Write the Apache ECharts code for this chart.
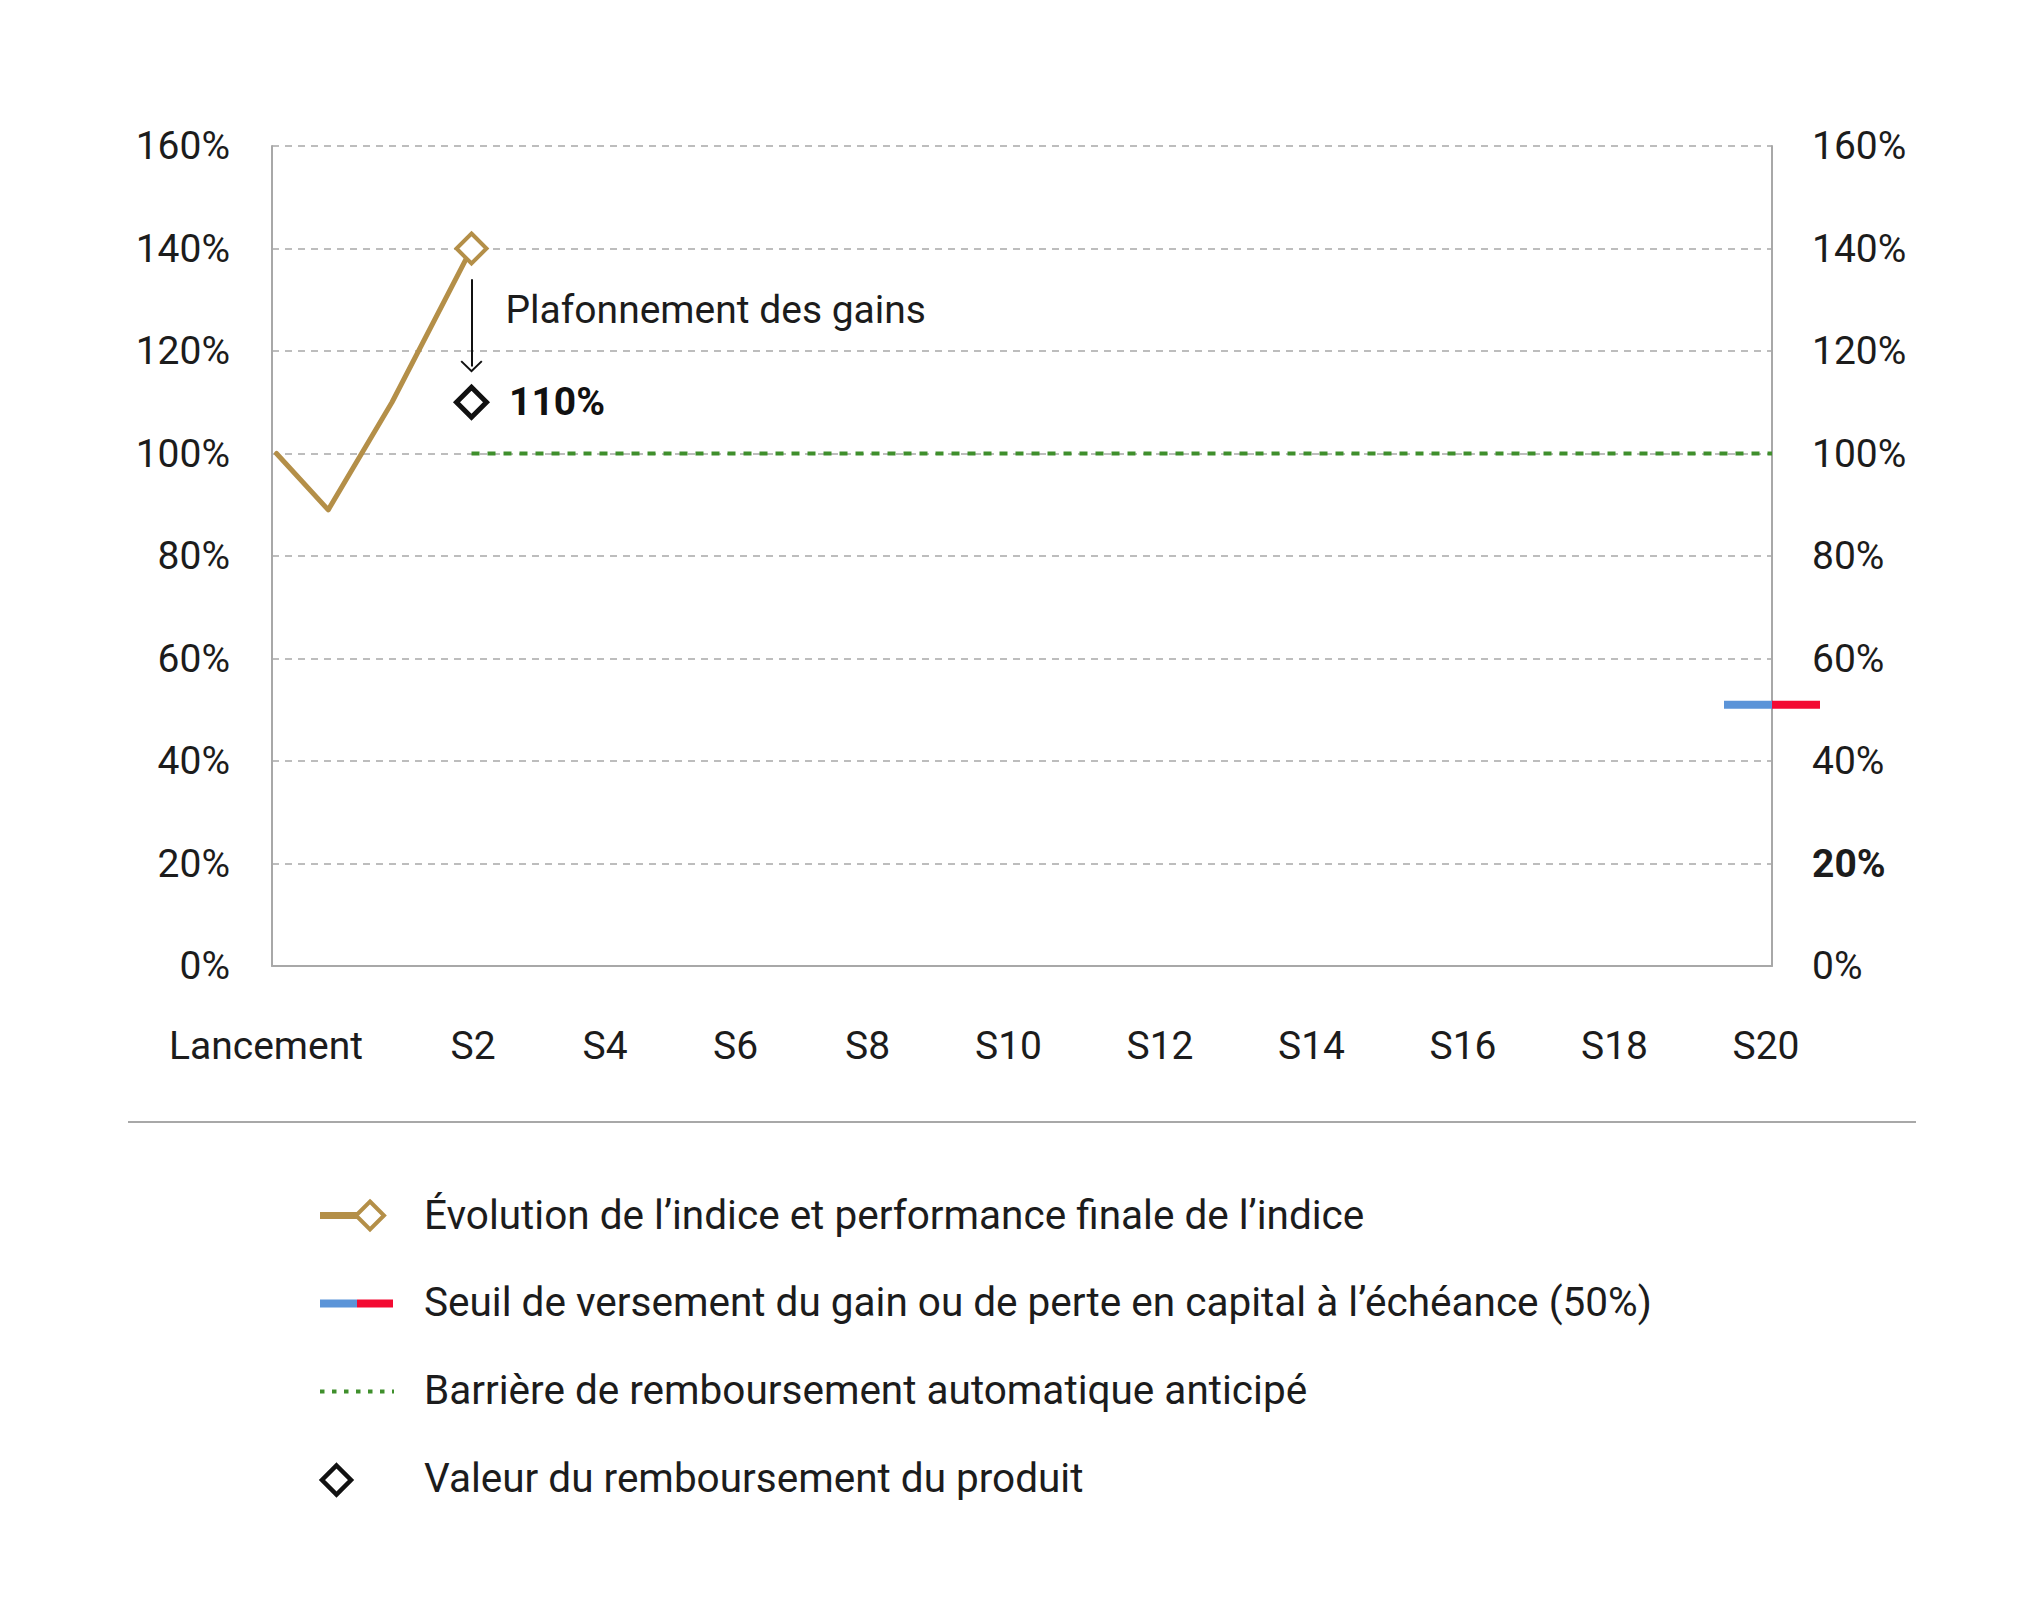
<!DOCTYPE html>
<html>
<head>
<meta charset="utf-8">
<script src="https://cdn.jsdelivr.net/npm/echarts@6/dist/echarts.min.js"></script>
<style>
  html, body { margin: 0; padding: 0; background: #ffffff; }
  #chart { width: 2044px; height: 1600px; }
</style>
</head>
<body>
<div id="chart"></div>
<script>
// ---- data ----
const xTickValues = [0, 13.8, 22.6, 31.3, 40.1, 49.5, 59.6, 69.7, 79.8, 89.9, 100];
const xTickLabels = ['Lancement', 'S2', 'S4', 'S6', 'S8', 'S10', 'S12', 'S14', 'S16', 'S18', 'S20'];
const yTickValues = [0, 20, 40, 60, 80, 100, 120, 140, 160];
const boldRightTick = 20;

const indexX = [0.3, 3.75, 8, 13.3];
const indexY = [100, 89, 110, 140];

const barrierX = [13.3, 100];
const barrierY = [100, 100];

const thresholdBlueX = [96.8, 100];
const thresholdRedX = [100, 103.2];
const thresholdLevel = 51;

const redemptionX = 13.3;
const redemptionValue = 110;
const redemptionLabel = '110%';

const capArrowFromTo = [134, 117];
const capNoteLevel = 128;
const capNoteText = 'Plafonnement des gains';

const legendLabels = [
  'Évolution de l’indice et performance finale de l’indice',
  'Seuil de versement du gain ou de perte en capital à l’échéance (50%)',
  'Barrière de remboursement automatique anticipé',
  'Valeur du remboursement du produit'
];

// ---- styles ----
const FONT = 'Roboto';
const TXT = '#1c1c1c';
const GOLD = '#b48f48';
const BLUE = '#5b94d8';
const RED = '#f30a32';
const GREEN = '#3f8f2c';
const GRIDC = '#a8a8a8';
const FS = 39;
const LFS = 40.5;

const chart = echarts.init(document.getElementById('chart'), null, { renderer: 'svg' });

function zip(xs, ys) { return xs.map((x, i) => [x, ys[i]]); }

const indexData = zip(indexX, indexY).map((p, i, arr) => {
  if (i === arr.length - 1) {
    return { value: p, symbol: 'diamond', symbolSize: 30,
      itemStyle: { color: '#ffffff', borderColor: GOLD, borderWidth: 4, opacity: 1 } };
  }
  return { value: p, symbol: 'none' };
});

const chevron = 'path://M11,0 L22,11 L20.6,12.4 L11,2.8 L1.4,12.4 L0,11 Z';

const PLOT_TOP = 146, PLOT_BOTTOM = 634, PLOT_LEFT = 272, PLOT_RIGHT = 272;

const option = {
  backgroundColor: '#ffffff',
  animation: false,
  textStyle: { fontFamily: FONT },
  grid: [
    { left: PLOT_LEFT, right: PLOT_RIGHT, top: PLOT_TOP, bottom: PLOT_BOTTOM, outerBoundsMode: 'none', containLabel: false },
    // narrow strip just right of the plot, for the part of the threshold drawn past S20
    { left: 2044 - PLOT_RIGHT, width: 48, top: PLOT_TOP, bottom: PLOT_BOTTOM, outerBoundsMode: 'none', containLabel: false }
  ],
  xAxis: [
    {
      type: 'value', min: 0, max: 100, gridIndex: 0,
      axisLine: { show: true, lineStyle: { color: GRIDC, width: 2 } },
      axisTick: { show: false },
      splitLine: { show: false },
      axisLabel: {
        customValues: xTickValues,
        margin: 60,
        padding: [0, 12, 0, 0],
        fontFamily: FONT, fontSize: FS, color: TXT,
        formatter: function (v) {
          let best = 0, d = Infinity;
          xTickValues.forEach((t, i) => { if (Math.abs(t - v) < d) { d = Math.abs(t - v); best = i; } });
          return xTickLabels[best];
        }
      }
    },
    {
      type: 'value', gridIndex: 1, min: thresholdRedX[0], max: thresholdRedX[1], show: false
    }
  ],
  yAxis: [
    {
      type: 'value', gridIndex: 0, min: yTickValues[0], max: yTickValues[yTickValues.length - 1], interval: 20,
      position: 'left',
      axisLine: { show: true, lineStyle: { color: GRIDC, width: 2 } },
      axisTick: { show: false },
      splitLine: { show: true, lineStyle: { color: GRIDC, width: 1.5, type: [7, 6] } },
      axisLabel: { margin: 42, fontFamily: FONT, fontSize: FS, color: TXT, formatter: '{value}%' }
    },
    {
      type: 'value', gridIndex: 0, min: yTickValues[0], max: yTickValues[yTickValues.length - 1], interval: 20,
      position: 'right',
      axisLine: { show: true, lineStyle: { color: GRIDC, width: 2 } },
      axisTick: { show: false },
      splitLine: { show: false },
      axisLabel: {
        margin: 40, fontFamily: FONT, fontSize: FS, color: TXT,
        formatter: function (v) { return v === boldRightTick ? '{b|' + v + '%}' : v + '%'; },
        rich: { b: { fontFamily: FONT, fontSize: FS, fontWeight: 'bold', color: TXT } }
      }
    },
    {
      type: 'value', gridIndex: 1, min: yTickValues[0], max: yTickValues[yTickValues.length - 1], show: false
    }
  ],
  series: [
    {
      name: 'barrier', type: 'line', xAxisIndex: 0, yAxisIndex: 0, silent: true,
      data: zip(barrierX, barrierY), symbol: 'none',
      lineStyle: { color: GREEN, width: 4, type: [8, 8] }, z: 3
    },
    {
      name: 'seuilBlue', type: 'line', xAxisIndex: 0, yAxisIndex: 0, silent: true,
      data: thresholdBlueX.map(x => [x, thresholdLevel]), symbol: 'none',
      lineStyle: { color: BLUE, width: 8, cap: 'butt' }, z: 4
    },
    {
      name: 'seuilRed', type: 'line', xAxisIndex: 1, yAxisIndex: 2, silent: true,
      data: thresholdRedX.map(x => [x, thresholdLevel]), symbol: 'none',
      lineStyle: { color: RED, width: 8, cap: 'butt' }, z: 4
    },
    {
      name: 'indice', type: 'line', xAxisIndex: 0, yAxisIndex: 0, silent: true, color: GOLD,
      showSymbol: true, showAllSymbol: true,
      data: indexData,
      lineStyle: { color: GOLD, width: 5, cap: 'round', join: 'round' }, z: 5
    },
    {
      name: 'remboursement', type: 'scatter', xAxisIndex: 0, yAxisIndex: 0, silent: true,
      data: [[redemptionX, redemptionValue]],
      symbol: 'diamond', symbolSize: 30,
      itemStyle: { color: '#ffffff', borderColor: '#111111', borderWidth: 5, opacity: 1 },
      label: {
        show: true, position: 'right', distance: 20, opacity: 1,
        formatter: redemptionLabel,
        fontFamily: FONT, fontSize: FS, fontWeight: 'bold', color: '#111111'
      },
      markLine: {
        silent: true, animation: false,
        symbol: ['none', chevron], symbolSize: [22, 12],
        lineStyle: { color: '#111111', width: 2, type: 'solid', opacity: 1 },
        label: { show: false },
        data: [[{ coord: [redemptionX, capArrowFromTo[0]] }, { coord: [redemptionX, capArrowFromTo[1]] }]]
      },
      markPoint: {
        silent: true, animation: false,
        data: [{
          coord: [redemptionX, capNoteLevel], symbol: 'circle', symbolSize: 0.01,
          itemStyle: { color: 'rgba(0,0,0,0)' },
          label: {
            show: true, position: 'right', distance: 34, formatter: capNoteText,
            fontFamily: FONT, fontSize: FS, color: TXT
          }
        }]
      },
      z: 6
    }
  ],
  graphic: [
    { type: 'line', shape: { x1: 128, y1: 1122, x2: 1916, y2: 1122 }, style: { stroke: GRIDC, lineWidth: 2 }, silent: true },
    // row 1
    { type: 'line', shape: { x1: 320, y1: 1215.5, x2: 358, y2: 1215.5 }, style: { stroke: GOLD, lineWidth: 7 }, silent: true },
    { type: 'polygon', shape: { points: [[370, 1201.5], [384, 1215.5], [370, 1229.5], [356, 1215.5]] }, style: { stroke: GOLD, lineWidth: 4, fill: '#ffffff' }, silent: true },
    { type: 'text', x: 424, y: 1215, style: { text: legendLabels[0], font: LFS + 'px ' + FONT, fill: TXT, verticalAlign: 'middle' }, silent: true },
    // row 2
    { type: 'rect', shape: { x: 320, y: 1299.5, width: 37, height: 8 }, style: { fill: BLUE }, silent: true },
    { type: 'rect', shape: { x: 357, y: 1299.5, width: 36, height: 8 }, style: { fill: RED }, silent: true },
    { type: 'text', x: 424, y: 1302, style: { text: legendLabels[1], font: LFS + 'px ' + FONT, fill: TXT, verticalAlign: 'middle' }, silent: true },
    // row 3
    { type: 'line', shape: { x1: 320, y1: 1391.5, x2: 394, y2: 1391.5 }, style: { stroke: GREEN, lineWidth: 4, lineDash: [4.5, 7.5] }, silent: true },
    { type: 'text', x: 424, y: 1390, style: { text: legendLabels[2], font: LFS + 'px ' + FONT, fill: TXT, verticalAlign: 'middle' }, silent: true },
    // row 4
    { type: 'polygon', shape: { points: [[336.5, 1465.5], [351, 1480], [336.5, 1494.5], [322, 1480]] }, style: { stroke: '#111111', lineWidth: 4.5, fill: '#ffffff' }, silent: true },
    { type: 'text', x: 424, y: 1478, style: { text: legendLabels[3], font: LFS + 'px ' + FONT, fill: TXT, verticalAlign: 'middle' }, silent: true }
  ]
};

chart.setOption(option);
</script>
</body>
</html>
